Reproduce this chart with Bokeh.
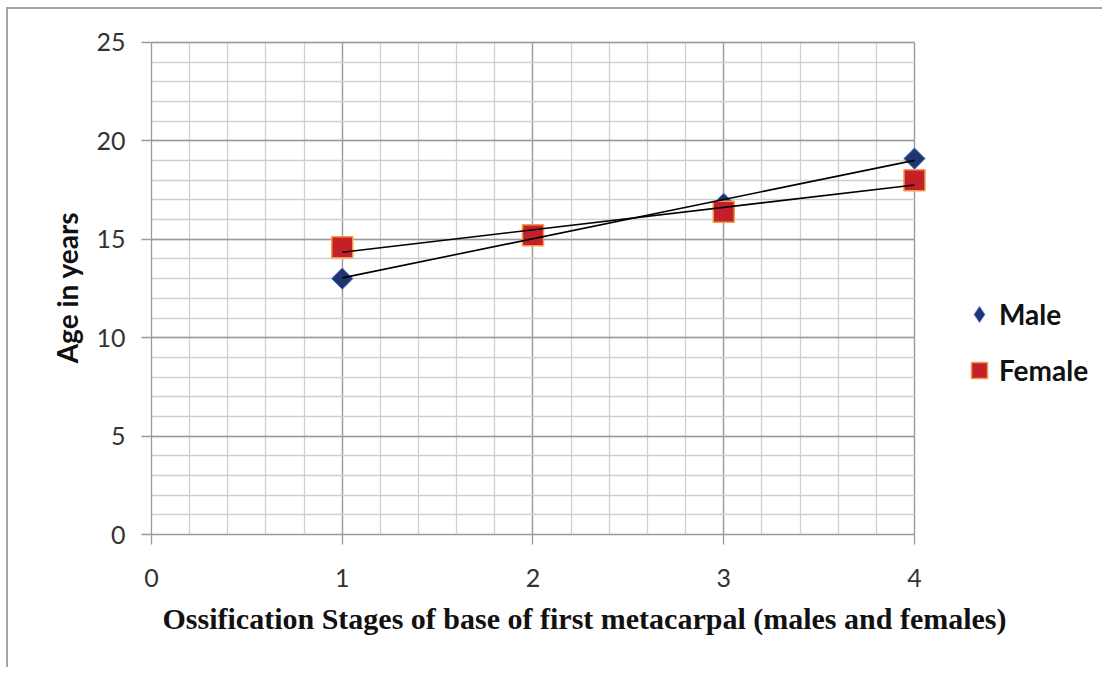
import numpy as np
from bokeh.plotting import figure
from bokeh.models import SingleIntervalTicker, Range1d, Legend, LegendItem, Title
from bokeh.embed import file_html
from bokeh.resources import INLINE

stages = [1, 2, 3, 4]
male_age = [13.0, 15.2, 16.8, 19.1]
female_age = [14.6, 15.2, 16.4, 18.0]
x_ticks_interval = 1
y_ticks_interval = 5
x_lim = (0, 4)
y_lim = (0, 25)

# frame extends right of x=4 to hold the legend; grid and axes are bounded to the data area
p = figure(width=1096, height=660, output_backend="svg", toolbar_location=None,
           x_range=Range1d(0, 4.9437), y_range=Range1d(0, 25.1),
           min_border_left=143, min_border_right=10, min_border_top=31, min_border_bottom=135)
p.styles = {"border-left": "2px solid #a6a6a6", "border-top": "2px solid #a6a6a6",
            "margin-left": "6px", "margin-top": "7px"}
p.outline_line_color = None

xt = SingleIntervalTicker(interval=x_ticks_interval, num_minor_ticks=5)
yt = SingleIntervalTicker(interval=y_ticks_interval, num_minor_ticks=5)
p.xaxis.ticker = xt
p.yaxis.ticker = yt
p.xgrid.ticker = xt
p.ygrid.ticker = yt
p.xaxis.bounds = x_lim
p.yaxis.bounds = y_lim
p.xgrid.bounds = x_lim
p.ygrid.bounds = y_lim
p.xgrid.cross_bounds = y_lim
p.ygrid.cross_bounds = x_lim

for g in (p.xgrid, p.ygrid):
    g.grid_line_color = "#9a9a9a"
    g.grid_line_width = 1.3
    g.minor_grid_line_color = "#cfcfcf"
    g.minor_grid_line_width = 1.3

for ax in (p.xaxis, p.yaxis):
    ax.axis_line_color = "#9a9a9a"
    ax.axis_line_width = 1.3
    ax.major_tick_line_color = "#9a9a9a"
    ax.major_tick_line_width = 1.3
    ax.major_tick_out = 10
    ax.major_tick_in = 0
    ax.minor_tick_line_color = None
    ax.major_label_text_font = "Lato"
    ax.major_label_text_font_size = "25px"
    ax.major_label_text_color = "#333333"
p.yaxis.major_label_standoff = 16
p.xaxis.major_label_standoff = 24

p.yaxis.axis_label = "Age in years"
p.yaxis.axis_label_text_font = "Lato"
p.yaxis.axis_label_text_font_style = "bold"
p.yaxis.axis_label_text_font_size = "28px"
p.yaxis.axis_label_text_color = "#111111"
p.yaxis.axis_label_standoff = 9

xtitle = Title(text="Ossification  Stages of base of first  metacarpal (males and females)",
               align="left", offset=11, standoff=20,
               text_font="Liberation Serif", text_font_style="bold",
               text_font_size="30px", text_color="#111111")
p.add_layout(xtitle, "below")

r_m = p.scatter(stages, male_age, marker="square", angle=np.pi / 4, size=15,
                fill_color="#1f3470", line_color="#4a7cc7", line_width=1)
r_f = p.scatter(stages, female_age, marker="square", size=21,
                fill_color="#c3202a", line_color="#f59a4a", line_width=1.5)

xs = np.array([min(stages), max(stages)], dtype=float)
for ys in (male_age, female_age):
    k, b = np.polyfit(stages, ys, 1)
    p.line(xs, k * xs + b, line_color="#000000", line_width=1.6)

# legend-only glyph for the male diamond (no visible point in the plot)
leg_m = p.scatter([np.nan], [np.nan], marker="diamond", size=20,
                  fill_color="#1f3470", line_color="#4a7cc7", line_width=1)

legend = Legend(items=[LegendItem(label="Male", renderers=[leg_m]),
                       LegendItem(label="Female", renderers=[r_f])],
                location=(808, 144), border_line_color=None, background_fill_alpha=0,
                label_text_font="Lato", label_text_font_style="bold",
                label_text_font_size="28px", label_text_color="#111111",
                spacing=16, glyph_width=40, glyph_height=40, label_standoff=0)
p.add_layout(legend, "center")

open("out.html", "w").write(file_html(p, INLINE))
